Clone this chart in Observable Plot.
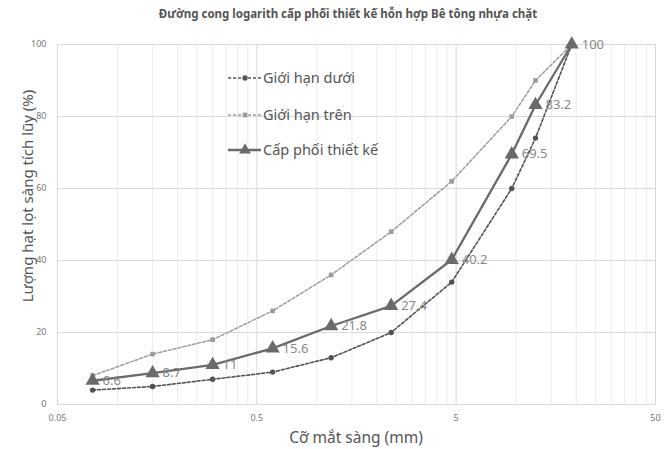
<!DOCTYPE html>
<html><head><meta charset="utf-8">
<script src="https://cdn.jsdelivr.net/npm/d3@7"></script>
<script src="https://cdn.jsdelivr.net/npm/@observablehq/plot@0.6"></script>
<style>
body{margin:0;background:#fff;font-family:"Noto Sans",sans-serif}
#wrap{position:relative;width:668px;height:449px;overflow:hidden}
#title{position:absolute;left:0;top:6px;width:696px;text-align:center;font-size:11.5px;font-weight:bold;color:#555}
#ylab{position:absolute;left:27px;top:196px;transform:translate(-50%,-50%) rotate(-90deg);white-space:nowrap;font-size:15px;color:#555}
#xlab{position:absolute;left:356px;top:437px;transform:translate(-50%,-50%);white-space:nowrap;font-size:15.5px;color:#555}
#legend{position:absolute;left:0;top:0}
</style></head><body>
<div id="wrap">
<div id="chart"></div>
<div id="title">Đường cong logarith cấp phối thiết kế hỗn hợp Bê tông nhựa chặt</div>
<div id="ylab">Lượng hạt lọt sàng tích lũy (%)</div>
<div id="xlab">Cỡ mắt sàng (mm)</div>
<svg id="legend" width="668" height="449"></svg>
</div>
<script>
const sieve = [0.075, 0.15, 0.3, 0.6, 1.18, 2.36, 4.75, 9.5, 12.5, 19];
const lower = [4, 5, 7, 9, 13, 20, 34, 60, 74, 100];
const upper = [8, 14, 18, 26, 36, 48, 62, 80, 90, 100];
const design = [6.6, 8.7, 11, 15.6, 21.8, 27.4, 40.2, 69.5, 83.2, 100];
const xTicks = [0.05, 0.5, 5, 50];
const yTicks = [0, 20, 40, 60, 80, 100];
const seriesNames = ["Giới hạn dưới", "Giới hạn trên", "Cấp phối thiết kế"];

const minorX = [];
for (const d of [0.05, 0.5, 5]) for (let k = 2; k <= 9; k++) minorX.push(+(d * k).toFixed(3));

const lowData = sieve.map((x, i) => ({x, y: lower[i]}));
const upData = sieve.map((x, i) => ({x, y: upper[i]}));
const desData = sieve.map((x, i) => ({x, y: design[i]}));

const cLow = "#525252", cUp = "#9c9c9c", cDes = "#6a6a6a";

const chart = Plot.plot({
  width: 668, height: 449,
  marginTop: 44, marginBottom: 45, marginLeft: 57, marginRight: 13,
  style: {fontFamily: "'Noto Sans', sans-serif", background: "#fff"},
  x: {type: "log", domain: [0.05, 50], axis: null},
  y: {domain: [0, 100], axis: null},
  marks: [
    Plot.ruleX(minorX, {stroke: "#ececec", strokeWidth: 1}),
    Plot.ruleX(xTicks, {stroke: "#d9d9d9", strokeWidth: 1}),
    Plot.ruleY(yTicks, {stroke: "#d9d9d9", strokeWidth: 1}),
    Plot.text(xTicks, {x: d => d, frameAnchor: "bottom", dy: 16, text: d => String(d), fontSize: 9, fill: "#777"}),
    Plot.text(yTicks, {y: d => d, frameAnchor: "left", dx: -11, textAnchor: "end", text: d => String(d), fontSize: 9, fill: "#777"}),
    Plot.line(upData, {x: "x", y: "y", stroke: cUp, strokeWidth: 1.5, strokeDasharray: "3,2"}),
    Plot.dot(upData, {x: "x", y: "y", symbol: "square", r: 2.6, fill: cUp, stroke: "none"}),
    Plot.line(lowData, {x: "x", y: "y", stroke: cLow, strokeWidth: 1.6, strokeDasharray: "3,2"}),
    Plot.dot(lowData, {x: "x", y: "y", r: 2.7, fill: cLow, stroke: "none"}),
    Plot.line(desData, {x: "x", y: "y", stroke: cDes, strokeWidth: 2.3}),
    Plot.dot(desData, {x: "x", y: "y", symbol: "triangle", r: 5.3, fill: cDes, stroke: "none"}),
    Plot.text(desData, {x: "x", y: "y", text: d => String(d.y), dx: 10, textAnchor: "start", fontSize: 13, fill: "#888"})
  ]
});
document.getElementById("chart").appendChild(chart);

// legend
const lg = d3.select("#legend");
const rows = [
  {name: seriesNames[0], y: 78, stroke: cLow, dash: "3,2", sym: "circle"},
  {name: seriesNames[1], y: 115, stroke: cUp, dash: "3,2", sym: "square"},
  {name: seriesNames[2], y: 150, stroke: cDes, dash: null, sym: "triangle"}
];
for (const r of rows) {
  lg.append("line").attr("x1", 228).attr("x2", 261).attr("y1", r.y).attr("y2", r.y)
    .attr("stroke", r.stroke).attr("stroke-width", r.sym === "triangle" ? 2.3 : 1.5)
    .attr("stroke-dasharray", r.dash);
  const sym = r.sym === "circle" ? d3.symbolCircle : r.sym === "square" ? d3.symbolSquare : d3.symbolTriangle;
  const size = r.sym === "triangle" ? 60 : 22;
  lg.append("path").attr("d", d3.symbol(sym, size)()).attr("transform", `translate(245,${r.y})`).attr("fill", r.stroke);
  lg.append("text").attr("x", 263).attr("y", r.y).attr("dy", "0.35em").attr("font-size", 14.5)
    .attr("fill", "#555").attr("font-family", "'Noto Sans', sans-serif").text(r.name);
}
</script>
</body></html>
